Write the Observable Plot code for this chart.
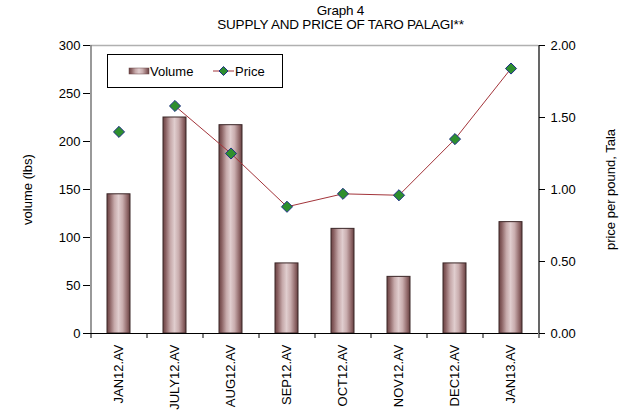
<!DOCTYPE html>
<html>
<head>
<meta charset="utf-8">
<script src="https://cdn.jsdelivr.net/npm/d3@7"></script>
<script src="https://cdn.jsdelivr.net/npm/@observablehq/plot@0.6"></script>
<style>
  html, body { margin: 0; padding: 0; background: #fff; }
  body { width: 627px; height: 415px; overflow: hidden; font-family: "Liberation Sans", Arial, sans-serif; }
  #title { height: 36px; width: 627px; text-align: center; font-size: 13.5px; line-height: 14px; color: #000; padding-top: 4px; box-sizing: border-box; letter-spacing: -0.2px; }
  #title div { position: relative; left: 27px; }
  #chart { position: relative; }
</style>
</head>
<body>
<div id="title"><div>Graph 4</div><div>SUPPLY AND PRICE OF TARO PALAGI**</div></div>
<div id="chart"></div>
<script>
const categories = ["JAN12.AV", "JULY12.AV", "AUG12.AV", "SEP12.AV", "OCT12.AV", "NOV12.AV", "DEC12.AV", "JAN13.AV"];
const volume = [145, 225, 217, 73, 109, 59, 73, 116];
const price = [1.40, 1.58, 1.25, 0.88, 0.97, 0.96, 1.35, 1.84];
const volumeTicks = [0, 50, 100, 150, 200, 250, 300];
const priceTicks = [0, 0.5, 1, 1.5, 2];
const lineSegment = ["JULY12.AV", "AUG12.AV", "SEP12.AV", "OCT12.AV", "NOV12.AV", "DEC12.AV", "JAN13.AV"];

const ratio = 150; // 2.00 on the right axis = 300 on the left axis
const rows = categories.map((c, i) => ({cat: c, volume: volume[i], price: price[i]}));
const lineRows = rows.filter(d => lineSegment.includes(d.cat));

const W = 627, H = 379;
const mL = 90, mR = 89;
const step = (W - mL - mR) / categories.length;
const FONT = "'Liberation Sans', Arial, sans-serif";

const plot = Plot.plot({
  width: W,
  height: H,
  marginTop: 9,
  marginBottom: 82,
  marginLeft: mL,
  marginRight: mR,
  style: {fontFamily: FONT, fontSize: "13px", color: "#000", background: "#fff"},
  x: {domain: categories, paddingInner: 0.59, paddingOuter: 0.295, align: 0.5},
  y: {domain: [0, 300]},
  marks: [
    Plot.ruleY([300], {stroke: "#b0b0b0", strokeWidth: 1.5}),
    Plot.barY(rows, {x: "cat", y: "volume", fill: "url(#barGrad)", stroke: "#3b2627", strokeWidth: 1}),
    Plot.line(lineRows, {x: "cat", y: d => d.price * ratio, stroke: "#a3343a", strokeWidth: 1}),
    Plot.dot(rows, {x: "cat", y: d => d.price * ratio, symbol: "diamond2", r: 5, fill: "#2e8f2e", stroke: "#1d2f86", strokeWidth: 1}),
    Plot.axisY({anchor: "left", ticks: volumeTicks, tickSize: 7, tickPadding: 3, label: "volume (lbs)", labelAnchor: "center", labelArrow: "none", labelOffset: 68}),
    Plot.axisY({anchor: "right", ticks: priceTicks.map(p => p * ratio), tickFormat: d => (d / ratio).toFixed(2), tickSize: 6, tickPadding: 6, label: null}),
    Plot.text(["price per pound, Tala"], {frameAnchor: "right", textAnchor: "middle", dx: 72, rotate: -90, fontSize: 13}),
    Plot.axisX({anchor: "bottom", tickSize: 0, tickPadding: 11, tickRotate: -90, label: null}),
    Plot.ruleX(categories, {x: d => d, y1: 0, y2: 0, dx: -step / 2, insetBottom: -5, stroke: "#000"}),
    Plot.ruleX([categories[categories.length - 1]], {x: d => d, y1: 0, y2: 0, dx: step / 2, insetBottom: -5, stroke: "#000"}),
    Plot.ruleY([0], {stroke: "#000", strokeWidth: 1.2}),
    Plot.ruleX([categories[0]], {x: d => d, dx: -step / 2, stroke: "#808080", strokeWidth: 1.6}),
    Plot.ruleX([categories[categories.length - 1]], {x: d => d, dx: step / 2, stroke: "#000", strokeWidth: 1.2})
  ]
});

const svg = d3.select(plot);
const defs = svg.insert("defs", ":first-child");
const g = defs.append("linearGradient").attr("id", "barGrad").attr("x1", "0").attr("x2", "1").attr("y1", "0").attr("y2", "0");
[[0, "#6a4243"], [0.12, "#8a6162"], [0.32, "#c6a9aa"], [0.5, "#e0cdce"], [0.68, "#c9adae"], [0.88, "#906869"], [1, "#654041"]]
  .forEach(([o, c]) => g.append("stop").attr("offset", o).attr("stop-color", c));

// Legend (inside plot area, like the original)
const lg = svg.append("g").attr("font-family", FONT).attr("font-size", "13px").attr("text-anchor", "start");
lg.append("rect").attr("x", 107.5).attr("y", 18.5).attr("width", 175).attr("height", 33).attr("fill", "#fff").attr("stroke", "#000");
lg.append("rect").attr("x", 129).attr("y", 32).attr("width", 20).attr("height", 6).attr("fill", "url(#barGrad)").attr("stroke", "#6a4344").attr("stroke-width", 0.5);
lg.append("text").attr("x", 150).attr("y", 39.5).text("Volume");
lg.append("line").attr("x1", 213).attr("x2", 234).attr("y1", 35).attr("y2", 35).attr("stroke", "#a3343a");
lg.append("path").attr("d", "M223.5,30.5L228,35L223.5,39.5L219,35Z").attr("fill", "#2e8f2e").attr("stroke", "#1d2f86");
lg.append("text").attr("x", 235).attr("y", 39.5).text("Price");

document.getElementById("chart").appendChild(plot);
</script>
</body>
</html>
